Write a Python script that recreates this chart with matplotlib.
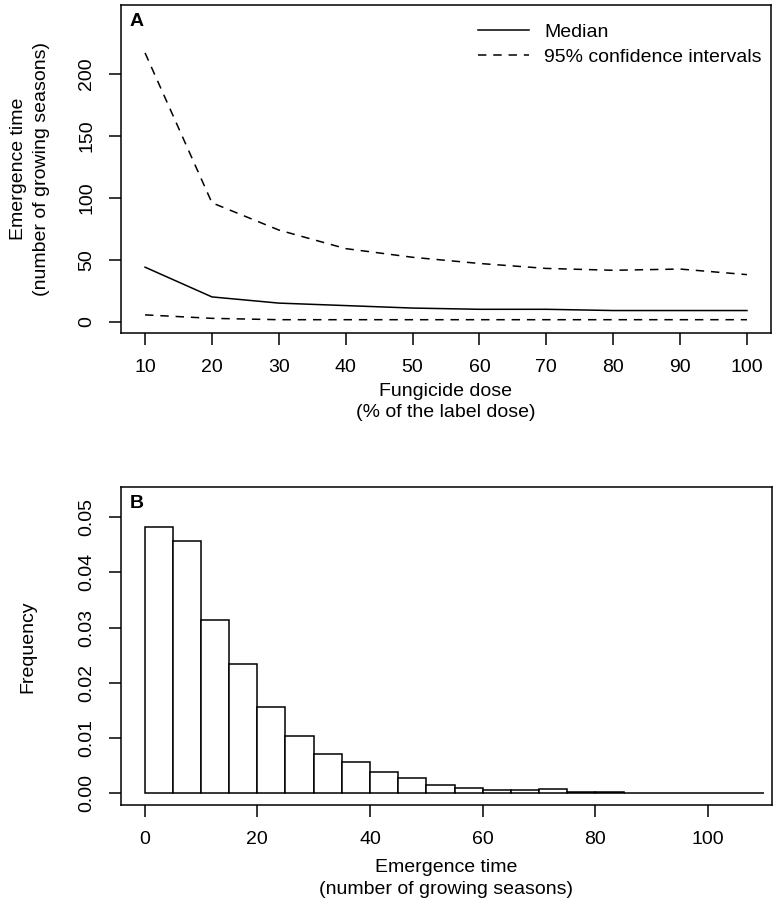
import matplotlib
matplotlib.use("Agg")
import matplotlib.pyplot as plt

plt.rcParams["font.family"] = ["Liberation Sans", "DejaVu Sans"]
plt.rcParams["font.size"] = 14

# Panel A: emergence time vs fungicide dose
dose = [10, 20, 30, 40, 50, 60, 70, 80, 90, 100]
median = [44, 20, 15, 13, 11, 10, 10, 9, 9, 9]
ci_upper = [217, 96, 74, 59, 52, 47, 43, 41.5, 42.5, 38]
ci_lower = [5.5, 2.7, 1.6, 1.6, 1.6, 1.6, 1.6, 1.6, 1.6, 1.6]

# Panel B: histogram (density) of emergence time, bins of width 5
bin_edges = list(range(0, 115, 5))
freq = [0.0483, 0.0456, 0.0313, 0.0234, 0.0157, 0.0104, 0.0071, 0.0056,
        0.0039, 0.0027, 0.0016, 0.0009, 0.0006, 0.0006, 0.0007, 0.0003,
        0.0002, 0.0, 0.0, 0.0001, 0.0001, 0.0]

fig = plt.figure(figsize=(7.77, 9.06), dpi=100)
ax1 = fig.add_axes([0.1557, 0.6325, 0.8366, 0.3620])
ax2 = fig.add_axes([0.1557, 0.1111, 0.8375, 0.3510])

lw = 1.1
dash = (0, (5.5, 4.5))

ax1.plot(dose, median, color="black", lw=lw, label="Median")
ax1.plot(dose, ci_upper, color="black", lw=lw, linestyle=dash,
         label="95% confidence intervals")
ax1.plot(dose, ci_lower, color="black", lw=lw, linestyle=dash)
ax1.set_xlim(6.4, 103.6)
ax1.set_ylim(-9.1, 255.7)
ax1.set_xticks(dose)
ax1.set_yticks([0, 50, 100, 150, 200])
ax1.set_xlabel("Fungicide dose\n(% of the label dose)", labelpad=5,
               linespacing=1.35)
ax1.set_ylabel("Emergence time\n(number of growing seasons)", labelpad=20,
               linespacing=1.5)
ax1.legend(loc="upper right", bbox_to_anchor=(0.998, 0.967), frameon=False,
           handlelength=2.6, borderaxespad=0, labelspacing=0.35, fontsize=14)
ax1.text(0.013, 0.975, "A", transform=ax1.transAxes, fontweight="bold",
         fontsize=14, va="top", ha="left")

widths = [bin_edges[i + 1] - bin_edges[i] for i in range(len(freq))]
ax2.bar(bin_edges[:-1], freq, width=widths, align="edge",
        facecolor="white", edgecolor="black", linewidth=lw)
ax2.set_xlim(-4.2, 111.3)
ax2.set_ylim(-0.00217, 0.0554)
ax2.set_xticks([0, 20, 40, 60, 80, 100])
ax2.set_yticks([0.00, 0.01, 0.02, 0.03, 0.04, 0.05])
ax2.set_yticklabels(["0.00", "0.01", "0.02", "0.03", "0.04", "0.05"])
ax2.set_xlabel("Emergence time\n(number of growing seasons)", labelpad=8,
               linespacing=1.35)
ax2.set_ylabel("Frequency", labelpad=30)
ax2.text(0.013, 0.975, "B", transform=ax2.transAxes, fontweight="bold",
         fontsize=14, va="top", ha="left")

for ax in (ax1, ax2):
    for s in ax.spines.values():
        s.set_linewidth(lw)
    ax.tick_params(direction="out", length=8.6, width=lw, pad=10)
    for lab in ax.get_yticklabels():
        lab.set_rotation(90)
        lab.set_va("center")

fig.savefig("out.png", dpi=100)
